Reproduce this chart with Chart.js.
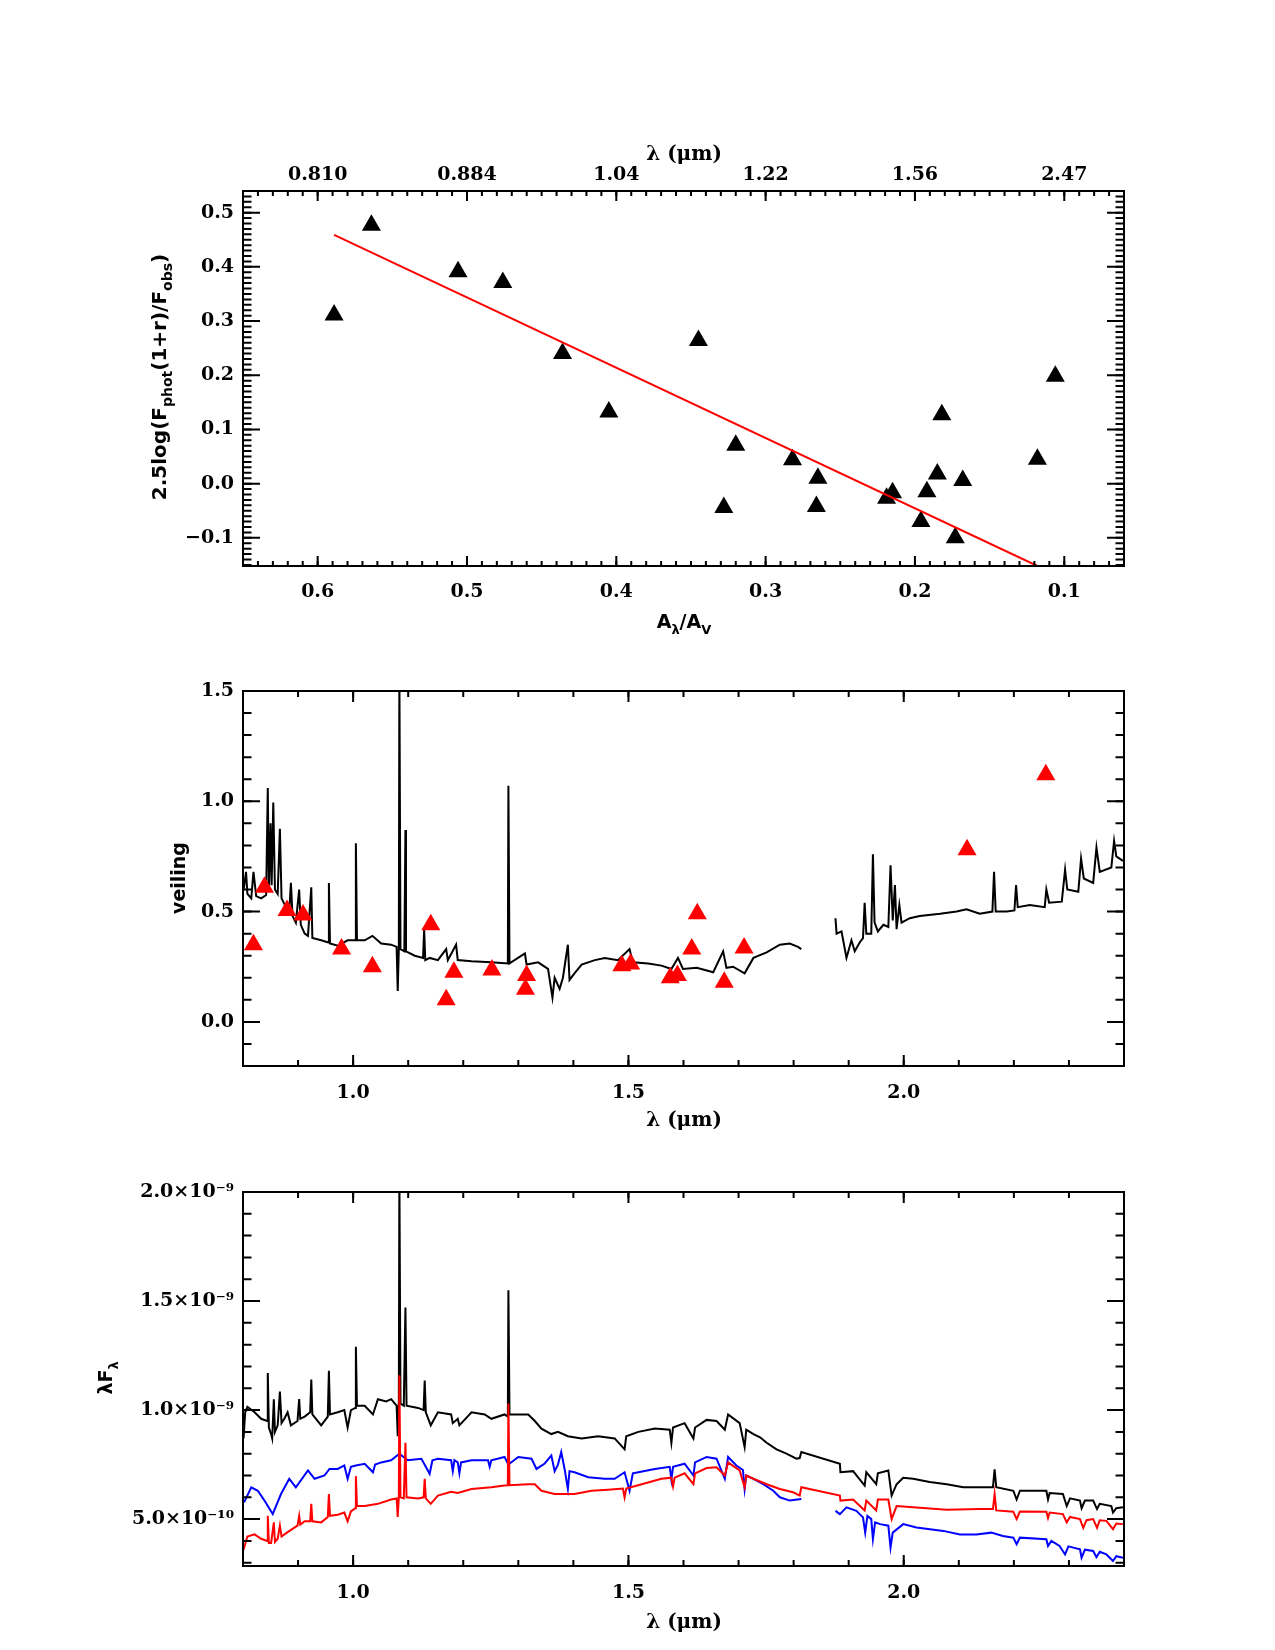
<!DOCTYPE html>
<html>
<head>
<meta charset="utf-8">
<script src="https://cdn.jsdelivr.net/npm/chart.js@4.4.1/dist/chart.umd.min.js"></script>
<style>
  body { margin: 0; background: #fff; }
  #wrap { position: relative; width: 1275px; height: 1650px; }
  canvas { position: absolute; left: 0; }
</style>
</head>
<body>
<div id="wrap">
  <canvas id="extinction-chart" width="1275" height="540" style="top:100px"></canvas>
  <canvas id="veiling-chart" width="1275" height="500" style="top:640px"></canvas>
  <canvas id="sed-chart" width="1275" height="510" style="top:1140px"></canvas>
</div>
<script>
// ---- top panel: excess vs A_lambda/A_V ----
const extAratio = [0.589, 0.564, 0.506, 0.476, 0.436, 0.405, 0.345, 0.328, 0.320, 0.282, 0.265,
  0.266, 0.219, 0.215, 0.196, 0.192, 0.185, 0.182, 0.173, 0.168, 0.118, 0.106];
const extExcess = [0.311, 0.477, 0.391, 0.371, 0.240, 0.132, 0.264, -0.044, 0.071, 0.044, 0.010,
  -0.042, -0.027, -0.017, -0.070, -0.015, 0.018, 0.127, -0.100, 0.006, 0.045, 0.198];
const fitAratio = [0.589, 0.118];
const fitExcess = [0.459, -0.152];
const extTicks = [0.6, 0.5, 0.4, 0.3, 0.2, 0.1];
const extTopLabels = ['0.810', '0.884', '1.04', '1.22', '1.56', '2.47'];
const extYTicks = [0.5, 0.4, 0.3, 0.2, 0.1, 0.0, -0.1];

// ---- middle panel: veiling ----
const veilPtWave = [0.819, 0.839, 0.880, 0.909, 0.979, 1.035, 1.141, 1.169, 1.183, 1.252, 1.315,
  1.313, 1.488, 1.504, 1.576, 1.589, 1.615, 1.625, 1.674, 1.710, 2.115, 2.258];
const veilPtValue = [0.35, 0.61, 0.505, 0.485, 0.33, 0.25, 0.44, 0.10, 0.225, 0.235, 0.21,
  0.148, 0.255, 0.262, 0.20, 0.21, 0.33, 0.49, 0.18, 0.335, 0.78, 1.12];
const veilWave = [0.801, 0.8055, 0.808, 0.815, 0.819, 0.824, 0.833, 0.842, 0.845, 0.847, 0.850, 0.852,
  0.855, 0.858, 0.863, 0.867, 0.870, 0.878, 0.884, 0.887, 0.890, 0.896, 0.902, 0.905, 0.912, 0.918,
  0.924, 0.926, 0.942, 0.955, 0.956, 0.958, 0.972, 0.990, 1.004, 1.005, 1.007, 1.021, 1.035, 1.051,
  1.069, 1.079, 1.081, 1.083, 1.084, 1.086, 1.093, 1.095, 1.096, 1.112, 1.127, 1.129, 1.131, 1.139,
  1.154, 1.169, 1.172, 1.187, 1.190, 1.215, 1.251, 1.281, 1.282, 1.284, 1.312, 1.315, 1.336, 1.354,
  1.362, 1.366, 1.375, 1.381, 1.390, 1.393, 1.402, 1.415, 1.439, 1.457, 1.481, 1.502, 1.508, 1.536,
  1.560, 1.578, 1.590, 1.599, 1.624, 1.654, 1.672, 1.678, 1.690, 1.711, 1.727, 1.751, 1.775, 1.793,
  1.808, 1.814, 1.85, 1.876, 1.878, 1.887, 1.896, 1.905, 1.911, 1.920, 1.926, 1.929, 1.932, 1.941,
  1.944, 1.947, 1.953, 1.963, 1.972, 1.976, 1.980, 1.984, 1.987, 1.992, 1.996, 2.011, 2.029, 2.066,
  2.096, 2.114, 2.138, 2.161, 2.164, 2.167, 2.187, 2.201, 2.204, 2.207, 2.229, 2.256, 2.259, 2.264,
  2.287, 2.293, 2.297, 2.317, 2.322, 2.327, 2.344, 2.350, 2.356, 2.377, 2.382, 2.386, 2.398];
const veilValue = [0.596, 0.68, 0.58, 0.56, 0.68, 0.57, 0.56, 0.575, 1.06, 0.60, 0.90, 0.62,
  0.995, 0.60, 0.58, 0.875, 0.56, 0.52, 0.50, 0.63, 0.48, 0.45, 0.60, 0.44, 0.40, 0.39,
  0.61, 0.38, 0.37, 0.36, 0.63, 0.355, 0.345, 0.37, 0.37, 0.81, 0.37, 0.37, 0.39, 0.355,
  0.35, 0.34, 0.14, 0.33, 1.6, 0.33, 0.32, 0.87, 0.32, 0.30, 0.29, 0.42, 0.28, 0.29,
  0.28, 0.33, 0.28, 0.35, 0.28, 0.275, 0.27, 0.265, 1.07, 0.265, 0.31, 0.26, 0.27, 0.24,
  0.11, 0.20, 0.15, 0.20, 0.35, 0.19, 0.22, 0.26, 0.28, 0.29, 0.28, 0.33, 0.27, 0.265,
  0.255, 0.24, 0.29, 0.24, 0.245, 0.225, 0.32, 0.245, 0.25, 0.22, 0.29, 0.315, 0.35, 0.355,
  0.34, 0.33, null, 0.47, 0.40, 0.41, 0.29, 0.37, 0.32, 0.36, 0.38, 0.54, 0.40, 0.40,
  0.76, 0.45, 0.41, 0.44, 0.43, 0.71, 0.46, 0.62, 0.42, 0.53, 0.45, 0.47, 0.48, 0.49,
  0.50, 0.51, 0.49, 0.50, 0.68, 0.50, 0.50, 0.505, 0.62, 0.52, 0.53, 0.52, 0.60, 0.54,
  0.545, 0.69, 0.60, 0.59, 0.74, 0.65, 0.63, 0.79, 0.68, 0.70, 0.82, 0.75, 0.73];
const veilXTicks = [1.0, 1.5, 2.0];
const veilYTicks = [0.0, 0.5, 1.0, 1.5];

// ---- bottom panel: lambda F_lambda, values in units of 1e-10 ----
const sedWave = [0.801, 0.804, 0.808, 0.821, 0.833, 0.844, 0.845, 0.847, 0.851, 0.853, 0.856, 0.858,
  0.863, 0.867, 0.870, 0.875, 0.881, 0.887, 0.899, 0.902, 0.904, 0.912, 0.922, 0.924, 0.926, 0.942,
  0.954, 0.956, 0.958, 0.972, 0.984, 0.990, 0.996, 1.004, 1.005, 1.007, 1.021, 1.036, 1.045, 1.060,
  1.069, 1.079, 1.081, 1.083, 1.084, 1.086, 1.092, 1.095, 1.097, 1.118, 1.128, 1.130, 1.132, 1.141,
  1.154, 1.178, 1.181, 1.190, 1.193, 1.215, 1.239, 1.251, 1.275, 1.281, 1.282, 1.284, 1.318, 1.330,
  1.342, 1.360, 1.372, 1.390, 1.415, 1.445, 1.475, 1.493, 1.496, 1.518, 1.548, 1.575, 1.578, 1.581,
  1.602, 1.618, 1.621, 1.642, 1.660, 1.675, 1.681, 1.702, 1.711, 1.714, 1.727, 1.739, 1.751, 1.769,
  1.787, 1.805, 1.811, 1.814, 1.884, 1.885, 1.908, 1.929, 1.932, 1.950, 1.953, 1.972, 1.978, 1.987,
  1.999, 2.017, 2.047, 2.078, 2.108, 2.138, 2.162, 2.165, 2.168, 2.199, 2.205, 2.211, 2.259, 2.262,
  2.265, 2.289, 2.296, 2.302, 2.320, 2.323, 2.329, 2.344, 2.351, 2.356, 2.377, 2.380, 2.386, 2.398];
const sedBlack = [8.7, 9.9, 10.15, 9.9, 9.6, 9.5, 11.7, 9.2, 8.9, 8.7, 10.5, 9.0,
  9.3, 10.85, 9.4, 9.6, 9.9, 9.3, 9.5, 10.5, 9.6, 9.7, 9.9, 11.4, 9.8, 9.3,
  9.7, 11.8, 9.8, 9.9, 10.0, 9.2, 10.0, 10.1, 12.9, 10.2, 10.2, 9.8, 10.5, 10.4,
  10.5, 10.2, 8.8, 10.3, 21, 10.3, 10.2, 14.7, 10.2, 10.1, 10.0, 11.35, 9.9, 9.3,
  9.9, 9.8, 9.4, 9.6, 9.3, 9.9, 9.8, 9.6, 9.8, 9.7, 15.5, 9.8, 9.8, 9.5,
  9.15, 8.9, 9.0, 8.8, 8.7, 8.8, 8.7, 8.2, 8.8, 9.0, 9.15, 9.1, 8.5, 9.2,
  9.4, 8.7, 9.2, 9.55, 9.5, 9.1, 9.8, 9.4, 8.3, 9.1, 8.9, 8.75, 8.5, 8.2,
  8.0, 7.77, 7.8, 8.08, 7.54, 7.15, 7.2, 6.54, 7.15, 6.6, 7.1, 7.23, 6.08, 6.6,
  6.9, 6.85, 6.7, 6.6, 6.46, 6.46, 6.46, 7.28, 6.46, 6.3, 5.9, 6.3, 6.3, 5.9,
  6.2, 6.15, 5.6, 5.95, 5.85, 5.5, 5.85, 5.85, 5.46, 5.7, 5.6, 5.3, 5.5, 5.54];

const modelRedWave = [0.801, 0.808, 0.821, 0.833, 0.844, 0.845, 0.847, 0.851, 0.856, 0.858, 0.863, 0.867,
  0.870, 0.881, 0.899, 0.902, 0.904, 0.912, 0.922, 0.924, 0.926, 0.942, 0.954, 0.956, 0.958, 0.972,
  0.984, 0.990, 0.996, 1.004, 1.005, 1.007, 1.021, 1.045, 1.069, 1.079, 1.081, 1.083, 1.084, 1.086,
  1.092, 1.095, 1.097, 1.118, 1.128, 1.130, 1.132, 1.141, 1.154, 1.178, 1.190, 1.215, 1.251, 1.275,
  1.281, 1.282, 1.284, 1.318, 1.330, 1.342, 1.366, 1.402, 1.433, 1.463, 1.490, 1.493, 1.496, 1.524,
  1.560, 1.578, 1.581, 1.584, 1.602, 1.618, 1.621, 1.642, 1.660, 1.675, 1.681, 1.702, 1.711, 1.714,
  1.727, 1.751, 1.775, 1.799, 1.811, 1.814, 1.884, 1.885, 1.908, 1.929, 1.932, 1.950, 1.953, 1.972,
  1.978, 1.987, 2.017, 2.078, 2.138, 2.162, 2.165, 2.168, 2.199, 2.205, 2.211, 2.259, 2.262, 2.265,
  2.289, 2.296, 2.302, 2.320, 2.326, 2.332, 2.344, 2.351, 2.356, 2.368, 2.380, 2.386, 2.398];
const modelRed = [3.6, 4.2, 4.3, 4.1, 4.0, 5.15, 3.9, 3.9, 4.85, 3.95, 4.1, 4.7,
  4.2, 4.4, 4.7, 5.15, 4.75, 4.9, 4.9, 5.7, 4.9, 4.85, 5.1, 6.15, 5.15, 5.2,
  5.3, 4.9, 5.35, 5.5, 6.97, 5.6, 5.6, 5.7, 5.9, 5.95, 5.1, 6.0, 11.6, 6.0,
  5.95, 8.5, 6.0, 5.95, 6.0, 6.85, 5.95, 5.7, 6.08, 6.25, 6.2, 6.38, 6.46, 6.54,
  6.55, 10.3, 6.55, 6.6, 6.6, 6.3, 6.15, 6.15, 6.3, 6.35, 6.4, 6.0, 6.4, 6.6,
  6.85, 6.9, 6.5, 6.9, 7.1, 6.6, 7.1, 7.34, 7.38, 7.0, 7.6, 7.23, 6.46, 7.0,
  6.85, 6.6, 6.38, 6.23, 6.08, 6.46, 6.08, 5.85, 5.9, 5.4, 5.85, 5.4, 5.9, 5.9,
  5.0, 5.6, 5.54, 5.43, 5.46, 5.46, 6.15, 5.4, 5.34, 5.0, 5.35, 5.34, 5.05, 5.3,
  5.23, 4.85, 5.1, 5.0, 4.6, 4.95, 5.0, 4.6, 4.95, 4.92, 4.54, 4.8, 4.77];

const modelBlueWave = [0.802, 0.815, 0.827, 0.839, 0.854, 0.869, 0.884, 0.896, 0.918, 0.930, 0.948, 0.957,
  0.972, 0.984, 0.990, 0.996, 1.005, 1.021, 1.036, 1.040, 1.051, 1.069, 1.084, 1.099, 1.124, 1.139,
  1.144, 1.154, 1.178, 1.181, 1.184, 1.190, 1.193, 1.196, 1.215, 1.245, 1.248, 1.251, 1.275, 1.282,
  1.300, 1.324, 1.333, 1.348, 1.360, 1.366, 1.372, 1.378, 1.384, 1.390, 1.393, 1.402, 1.427, 1.457,
  1.475, 1.493, 1.502, 1.508, 1.518, 1.548, 1.575, 1.578, 1.581, 1.602, 1.618, 1.621, 1.642, 1.660,
  1.675, 1.681, 1.696, 1.708, 1.711, 1.714, 1.727, 1.745, 1.763, 1.775, 1.793, 1.814, 1.85, 1.876,
  1.884, 1.896, 1.914, 1.926, 1.930, 1.934, 1.941, 1.944, 1.948, 1.957, 1.972, 1.976, 1.980, 1.999,
  2.023, 2.072, 2.102, 2.132, 2.159, 2.180, 2.199, 2.205, 2.211, 2.259, 2.262, 2.268, 2.283, 2.293,
  2.299, 2.320, 2.323, 2.329, 2.344, 2.350, 2.356, 2.368, 2.380, 2.386, 2.398];
const modelBlue = [5.77, 6.46, 6.3, 5.85, 5.23, 6.15, 6.85, 6.46, 7.23, 6.85, 7.0, 7.3,
  7.3, 7.46, 6.85, 7.4, 7.46, 7.54, 7.15, 7.5, 7.6, 7.7, 8.0, 7.7, 7.77, 7.08,
  7.7, 7.77, 7.7, 7.2, 7.7, 7.6, 7.1, 7.6, 7.7, 7.7, 7.4, 7.7, 7.85, 7.5,
  7.85, 7.77, 7.3, 7.55, 7.92, 7.2, 7.5, 8.08, 7.3, 6.38, 7.2, 7.15, 6.92, 6.85,
  6.85, 7.15, 6.3, 7.1, 7.15, 7.3, 7.4, 6.8, 7.4, 7.54, 7.0, 7.6, 7.85, 7.77,
  6.85, 7.85, 7.46, 7.25, 6.38, 7.0, 6.85, 6.6, 6.3, 6.0, 5.85, 5.92, null, 5.38,
  5.23, 5.54, 5.38, 5.08, 4.38, 5.15, 5.0, 4.08, 4.85, 4.77, 4.7, 3.69, 4.38, 4.77,
  4.62, 4.46, 4.3, 4.3, 4.38, 4.23, 4.15, 3.85, 4.15, 4.08, 3.77, 4.0, 3.77, 3.38,
  3.75, 3.62, 3.23, 3.6, 3.54, 3.25, 3.5, 3.38, 3.08, 3.3, 3.23];
const sedXTicks = [1.0, 1.5, 2.0];
const sedYTicks = [5, 10, 15, 20];
const sedYLabels = ['5.0×10⁻¹⁰', '1.0×10⁻⁹', '1.5×10⁻⁹', '2.0×10⁻⁹'];

const pts = (xs, ys) => xs.map((x, i) => ({ x: x, y: ys[i] }));
const fmt1 = v => v.toFixed(1).replace('-', '\u2212');
const tickFont = { family: '"DejaVu Serif"', size: 19, weight: 'bold' };

// inward IDL-style tick marks, frame and subscripted axis titles
const idlFrame = {
  id: 'idlFrame',
  afterDraw(chart, args, opts) {
    const ctx = chart.ctx, a = chart.chartArea;
    const xs = chart.scales.x, ys = chart.scales.y;
    ctx.save();
    ctx.strokeStyle = '#000';
    ctx.lineWidth = 2;
    ctx.strokeRect(a.left, a.top, a.right - a.left, a.bottom - a.top);
    const xTick = (v, len) => {
      const p = xs.getPixelForValue(v);
      ctx.beginPath();
      ctx.moveTo(p, a.bottom); ctx.lineTo(p, a.bottom - len);
      ctx.moveTo(p, a.top); ctx.lineTo(p, a.top + len);
      ctx.stroke();
    };
    const yTick = (v, len) => {
      const p = ys.getPixelForValue(v);
      ctx.beginPath();
      ctx.moveTo(a.left, p); ctx.lineTo(a.left + len, p);
      ctx.moveTo(a.right, p); ctx.lineTo(a.right - len, p);
      ctx.stroke();
    };
    const minors = (lo, hi, step, fn, len) => {
      for (let k = Math.ceil(lo / step - 1e-6); k * step <= hi + 1e-9; k++) fn(k * step, len);
    };
    minors(xs.min, xs.max, opts.xStep, xTick, opts.xLen[1]);
    opts.xMajor.forEach(v => xTick(v, opts.xLen[0]));
    minors(ys.min, ys.max, opts.yStep, yTick, opts.yLen[1]);
    opts.yMajor.forEach(v => yTick(v, opts.yLen[0]));

    ctx.fillStyle = '#000';
    ctx.textAlign = 'left';
    ctx.textBaseline = 'alphabetic';
    (opts.titles || []).forEach(t => {
      const fam = t.family || '"DejaVu Sans"';
      const main = 'bold ' + t.size + 'px ' + fam;
      const sub = 'bold ' + Math.round(t.size * 0.7) + 'px ' + fam;
      let w = 0;
      t.parts.forEach(p => { ctx.font = p[1] ? sub : main; w += ctx.measureText(p[0]).width; });
      ctx.save();
      ctx.translate(t.x, t.y);
      if (t.rotate) ctx.rotate(-Math.PI / 2);
      let x = -w / 2;
      t.parts.forEach(p => {
        ctx.font = p[1] ? sub : main;
        ctx.fillText(p[0], x, p[1] ? t.size * 0.32 : 0);
        x += ctx.measureText(p[0]).width;
      });
      ctx.restore();
    });
    ctx.restore();
  }
};

// the scale box is given a fixed size, so the plot area lands where the reference has it
function axis(pos, min, max, values, label, padding, size, extra) {
  return Object.assign({
    type: 'linear', position: pos, min: min, max: max,
    grid: { display: false, drawTicks: false },
    border: { display: false },
    afterBuildTicks: s => { s.ticks = values.map(v => ({ value: v })); },
    afterFit: s => { if (pos === 'left' || pos === 'right') s.width = size; else s.height = size; },
    ticks: { callback: label, padding: padding, maxRotation: 0, minRotation: 0, autoSkip: false,
      color: '#000', font: tickFont }
  }, extra || {});
}

function baseOptions(padding, scales, frame) {
  return {
    responsive: false, animation: false, devicePixelRatio: 1,
    layout: { padding: padding },
    scales: scales,
    plugins: { legend: { display: false }, tooltip: { enabled: false }, idlFrame: frame }
  };
}

// Top panel
new Chart(document.getElementById('extinction-chart'), {
  type: 'scatter',
  data: {
    datasets: [{
      data: pts(fitAratio, fitExcess), showLine: true, pointRadius: 0,
      borderColor: '#ff0000', borderWidth: 2, clip: 0
    }, {
      data: pts(extAratio, extExcess), pointStyle: 'triangle', pointRadius: 11,
      backgroundColor: '#000', borderColor: '#000', borderWidth: 0
    }]
  },
  options: baseOptions({ left: 0, right: 151, top: 0, bottom: 0 }, {
    x: axis('bottom', 0.06, 0.65, extTicks, v => v.toFixed(1), 15, 74, { reverse: true }),
    x2: axis('top', 0.06, 0.65, extTicks, (v, i) => extTopLabels[i], 5, 91, { reverse: true, axis: 'x' }),
    y: axis('left', -0.152, 0.54, extYTicks, fmt1, 9, 243)
  }, {
    xMajor: extTicks, xStep: 0.01, xLen: [10, 5],
    yMajor: extYTicks, yStep: 0.01, yLen: [17, 8.5],
    titles: [
      { parts: [['\u03bb (\u03bcm)', 0]], x: 684, y: 60, size: 20, family: '"DejaVu Serif"' },
      { parts: [['A', 0], ['\u03bb', 1], ['/A', 0], ['V', 1]], x: 684, y: 528, size: 19 },
      { parts: [['2.5log(F', 0], ['phot', 1], ['(1+r)/F', 0], ['obs', 1], [')', 0]],
        x: 166, y: 277, size: 20, rotate: true }
    ]
  }),
  plugins: [idlFrame]
});

// Middle panel
new Chart(document.getElementById('veiling-chart'), {
  type: 'scatter',
  data: {
    datasets: [{
      data: pts(veilPtWave, veilPtValue), pointStyle: 'triangle', pointRadius: 11,
      backgroundColor: '#ff0000', borderColor: '#ff0000', borderWidth: 0
    }, {
      data: pts(veilWave, veilValue), showLine: true, spanGaps: false, pointRadius: 0,
      borderColor: '#000', borderWidth: 2, clip: 0
    }]
  },
  options: baseOptions({ left: 0, right: 151, top: 51, bottom: 0 }, {
    x: axis('bottom', 0.8, 2.4, veilXTicks, v => v.toFixed(1), 16, 74),
    y: axis('left', -0.2, 1.5, veilYTicks, fmt1, 9, 243)
  }, {
    xMajor: veilXTicks, xStep: 0.1, xLen: [11, 6],
    yMajor: veilYTicks, yStep: 0.1, yLen: [17, 8.5],
    titles: [
      { parts: [['\u03bb (\u03bcm)', 0]], x: 684, y: 486, size: 20, family: '"DejaVu Serif"' },
      { parts: [['veiling', 0]], x: 185, y: 238, size: 19, rotate: true }
    ]
  }),
  plugins: [idlFrame]
});

// Bottom panel
new Chart(document.getElementById('sed-chart'), {
  type: 'scatter',
  data: {
    datasets: [{
      data: pts(modelRedWave, modelRed), showLine: true, pointRadius: 0,
      borderColor: '#ff0000', borderWidth: 2, clip: 0
    }, {
      data: pts(modelBlueWave, modelBlue), showLine: true, spanGaps: false, pointRadius: 0,
      borderColor: '#0000ff', borderWidth: 2, clip: 0
    }, {
      data: pts(sedWave, sedBlack), showLine: true, pointRadius: 0,
      borderColor: '#000', borderWidth: 2, clip: 0
    }]
  },
  options: baseOptions({ left: 0, right: 151, top: 52, bottom: 0 }, {
    x: axis('bottom', 0.8, 2.4, sedXTicks, v => v.toFixed(1), 16, 84),
    y: axis('left', 2.85, 20, sedYTicks, (v, i) => sedYLabels[i], 9, 243)
  }, {
    xMajor: sedXTicks, xStep: 0.1, xLen: [11, 6],
    yMajor: sedYTicks, yStep: 1, yLen: [17, 8.5],
    titles: [
      { parts: [['\u03bb (\u03bcm)', 0]], x: 684, y: 488, size: 20, family: '"DejaVu Serif"' },
      { parts: [['\u03bbF', 0], ['\u03bb', 1]], x: 112, y: 238, size: 19, rotate: true }
    ]
  }),
  plugins: [idlFrame]
});
</script>
</body>
</html>
